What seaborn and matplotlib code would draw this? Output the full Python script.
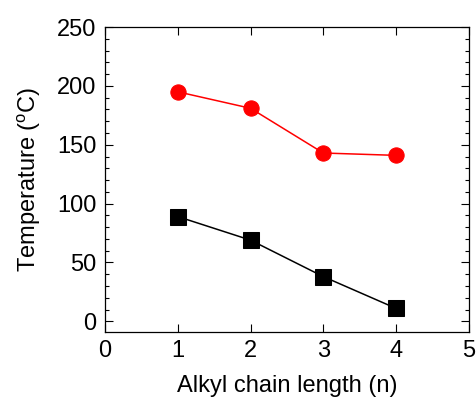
import matplotlib
matplotlib.use("Agg")
import matplotlib.pyplot as plt
import seaborn as sns
from matplotlib.ticker import MultipleLocator

# values
chain_length = [1, 2, 3, 4]
temp_upper = [195, 181, 143, 141]
temp_lower = [89, 69, 38, 11]

x_ticks = [0, 1, 2, 3, 4, 5]
y_ticks = [0, 50, 100, 150, 200, 250]

sns.set_style("ticks")
plt.rcParams['font.family'] = ['Liberation Sans', 'DejaVu Sans']
plt.rcParams['mathtext.fontset'] = 'custom'
plt.rcParams['mathtext.rm'] = 'Liberation Sans'
plt.rcParams['text.color'] = 'black'
plt.rcParams['axes.labelcolor'] = 'black'
plt.rcParams['xtick.color'] = 'black'
plt.rcParams['ytick.color'] = 'black'
plt.rcParams['axes.edgecolor'] = 'black'


def plot_temperature():
    fig = plt.figure(figsize=(4.77, 3.98), dpi=100)
    ax = fig.add_axes([0.220, 0.166, 0.763, 0.766])

    sns.lineplot(x=chain_length, y=temp_upper, marker='o', color='#ff0000',
                 markersize=11, markeredgecolor='#ff0000', linewidth=1.1, ax=ax)
    sns.lineplot(x=chain_length, y=temp_lower, marker='s', color='black',
                 markersize=11, markeredgecolor='black', linewidth=1.1, ax=ax)

    ax.set_xlim(0, 5)
    ax.set_ylim(-9, 250)
    ax.set_xticks(x_ticks)
    ax.set_yticks(y_ticks)
    ax.yaxis.set_minor_locator(MultipleLocator(10))
    ax.tick_params(which='both', direction='in', top=True, right=True,
                   labelsize=17, width=0.8)
    ax.tick_params(which='major', length=6, pad=6)
    ax.tick_params(which='minor', length=3)
    for s in ax.spines.values():
        s.set_linewidth(0.9)

    ax.set_xlabel("Alkyl chain length (n)", fontsize=17, labelpad=9)
    ax.set_ylabel("Temperature ($^{\\rm o}$C)", fontsize=17, labelpad=10)
    return fig


if __name__ == "__main__":
    fig = plot_temperature()
    fig.savefig("out.png", dpi=100)
